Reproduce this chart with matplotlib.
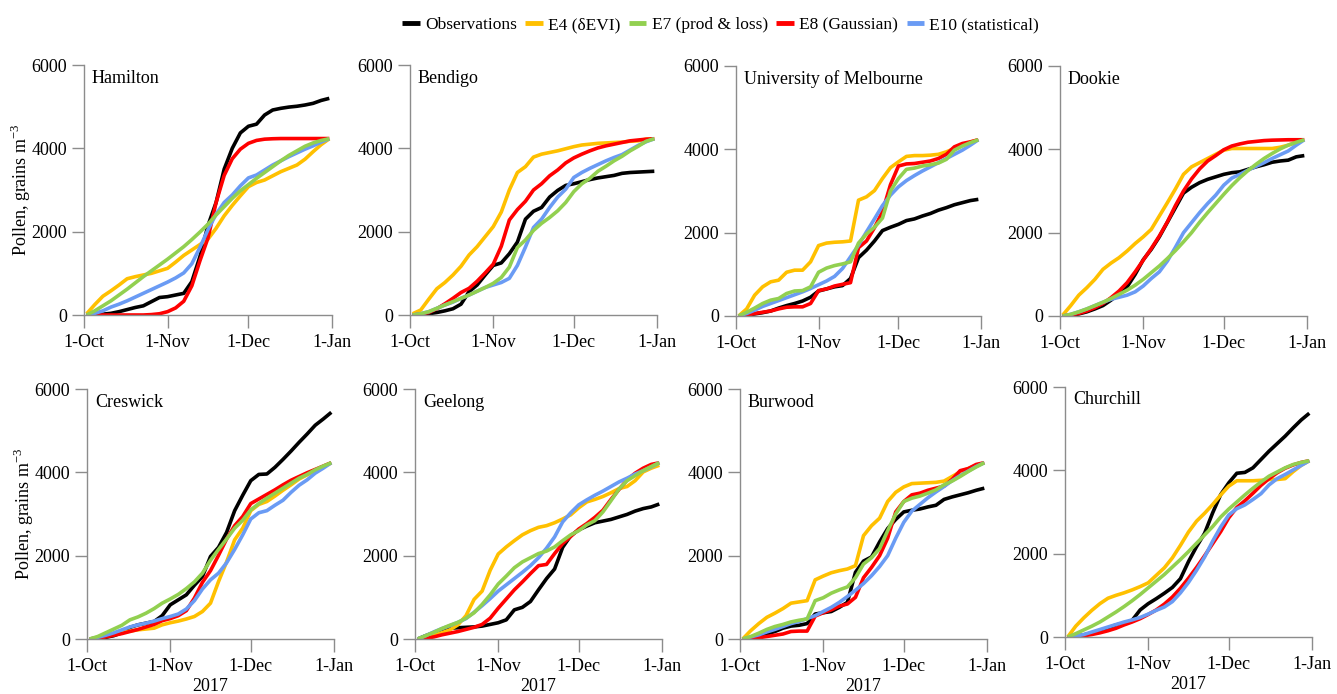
import matplotlib
matplotlib.use('Agg')
import matplotlib.pyplot as plt

plt.rcParams['font.family'] = ['Liberation Serif', 'DejaVu Serif']
plt.rcParams['mathtext.fontset'] = 'custom'
plt.rcParams['mathtext.rm'] = 'Liberation Serif'

# days since 1 October 2017
DAYS = [1, 4, 7, 10, 13, 16, 19, 22, 25, 28, 31, 34, 37, 40, 43, 46,
        49, 52, 55, 58, 61, 64, 67, 70, 73, 76, 79, 82, 85, 88, 91]

TICK_DAYS = [0, 31, 61, 92]
TICK_LABELS = ['1-Oct', '1-Nov', '1-Dec', '1-Jan']
Y_TICKS = [0, 2000, 4000, 6000]

SERIES_NAMES = ['Observations', 'E4 (\u03b4EVI)', 'E7 (prod & loss)',
                'E8 (Gaussian)', 'E10 (statistical)']
SERIES_COLORS = ['#000000', '#FFC000', '#92D050', '#FF0000', '#6A9BF4']

# --- Hamilton
HAMILTON_OBS = [0, 10, 20, 40, 80, 130, 180, 220, 320, 420, 440, 480, 520, 800, 1400, 2150,
                2700, 3500, 4000, 4370, 4530, 4580, 4800, 4920, 4960, 4990, 5010, 5040, 5080, 5150, 5200]
HAMILTON_E4 = [30, 250, 450, 580, 720, 870, 920, 960, 1000, 1060, 1120, 1270, 1430, 1560, 1690, 1820,
               2080, 2380, 2630, 2860, 3080, 3180, 3240, 3340, 3440, 3520, 3600, 3740, 3920, 4090, 4230]
HAMILTON_E7 = [0, 100, 220, 340, 480, 620, 770, 920, 1060, 1200, 1340, 1490, 1640, 1810, 1990, 2180,
               2400, 2600, 2800, 2980, 3130, 3280, 3420, 3560, 3700, 3830, 3940, 4050, 4130, 4190, 4230]
HAMILTON_E8 = [0, 0, 0, 0, 0, 0, 0, 0, 10, 30, 80, 170, 330, 700, 1300, 1850,
               2700, 3350, 3750, 3980, 4120, 4190, 4220, 4230, 4235, 4235, 4235, 4235, 4235, 4235, 4235]
HAMILTON_E10 = [0, 40, 100, 190, 260, 340, 430, 520, 610, 700, 790, 890, 1010, 1230, 1620, 2050,
                2420, 2700, 2880, 3100, 3290, 3360, 3480, 3600, 3700, 3800, 3890, 3980, 4060, 4150, 4230]

# --- Bendigo
BENDIGO_OBS = [0, 10, 30, 60, 100, 150, 260, 560, 720, 960, 1190, 1250, 1470, 1750, 2300, 2490,
               2580, 2830, 2990, 3110, 3150, 3200, 3250, 3290, 3320, 3350, 3400, 3420, 3430, 3440, 3450]
BENDIGO_E4 = [30, 120, 380, 630, 780, 960, 1170, 1440, 1640, 1880, 2120, 2470, 3000, 3420, 3560, 3790,
              3860, 3900, 3940, 3990, 4040, 4080, 4100, 4120, 4130, 4140, 4150, 4170, 4180, 4220, 4230]
BENDIGO_E7 = [0, 30, 80, 160, 240, 320, 400, 480, 570, 660, 760, 900, 1150, 1620, 1800, 2030,
              2200, 2340, 2500, 2700, 2960, 3150, 3280, 3450, 3570, 3700, 3810, 3940, 4050, 4170, 4230]
BENDIGO_E8 = [0, 20, 60, 150, 270, 400, 540, 640, 810, 1010, 1220, 1650, 2280, 2530, 2730, 3000,
              3150, 3340, 3480, 3650, 3770, 3860, 3940, 4010, 4060, 4100, 4140, 4180, 4200, 4220, 4230]
BENDIGO_E10 = [0, 30, 80, 160, 240, 310, 400, 480, 570, 660, 720, 780, 880, 1190, 1630, 2100,
               2300, 2580, 2830, 3020, 3300, 3420, 3520, 3610, 3700, 3780, 3850, 3960, 4070, 4160, 4230]

# --- University of Melbourne
MELB_OBS = [0, 20, 50, 80, 120, 190, 250, 300, 360, 450, 600, 650, 700, 730, 900, 1400,
            1580, 1800, 2050, 2130, 2200, 2290, 2330, 2400, 2460, 2540, 2600, 2670, 2720, 2770, 2800]
MELB_E4 = [0, 170, 500, 700, 820, 860, 1050, 1100, 1100, 1300, 1690, 1750, 1770, 1780, 1800, 2780,
           2860, 3010, 3300, 3560, 3700, 3830, 3850, 3850, 3860, 3880, 3940, 4020, 4100, 4170, 4230]
MELB_E7 = [0, 90, 190, 300, 380, 420, 540, 600, 610, 700, 1050, 1150, 1210, 1250, 1300, 1750,
           1970, 2130, 2350, 3000, 3300, 3520, 3550, 3600, 3630, 3670, 3760, 3980, 4080, 4160, 4230]
MELB_E8 = [0, 20, 60, 90, 120, 170, 210, 220, 220, 300, 610, 650, 720, 760, 800, 1640,
           1800, 2120, 2500, 3150, 3600, 3650, 3660, 3690, 3720, 3780, 3880, 4060, 4140, 4180, 4230]
MELB_E10 = [0, 60, 140, 230, 300, 370, 440, 510, 580, 660, 750, 840, 950, 1140, 1420, 1700,
            2020, 2330, 2650, 2900, 3100, 3250, 3370, 3480, 3580, 3680, 3780, 3880, 3980, 4100, 4230]

# --- Dookie
DOOKIE_OBS = [0, 20, 50, 100, 170, 250, 380, 530, 700, 1000, 1350, 1600, 1900, 2250, 2600, 2950,
              3090, 3200, 3280, 3340, 3400, 3440, 3460, 3520, 3580, 3630, 3690, 3720, 3740, 3820, 3850]
DOOKIE_E4 = [20, 250, 500, 680, 880, 1120, 1270, 1400, 1560, 1740, 1900, 2080, 2400, 2720, 3050, 3400,
             3580, 3680, 3780, 3880, 3980, 4020, 4020, 4020, 4020, 4020, 4020, 4050, 4100, 4170, 4230]
DOOKIE_E7 = [0, 40, 100, 170, 250, 330, 420, 520, 620, 740, 880, 1040, 1200, 1380, 1570, 1780,
             2000, 2250, 2480, 2700, 2920, 3130, 3320, 3490, 3640, 3780, 3900, 4010, 4100, 4170, 4230]
DOOKIE_E8 = [0, 30, 60, 120, 200, 300, 440, 600, 800, 1060, 1340, 1620, 1920, 2260, 2650, 3000,
             3290, 3530, 3720, 3850, 3990, 4080, 4130, 4170, 4190, 4210, 4220, 4225, 4230, 4230, 4230]
DOOKIE_E10 = [0, 40, 100, 170, 250, 330, 400, 450, 500, 580, 720, 900, 1060, 1320, 1650, 2000,
              2240, 2480, 2700, 2900, 3140, 3310, 3400, 3500, 3590, 3680, 3780, 3870, 3960, 4100, 4230]

# --- Creswick
CRESWICK_OBS = [0, 20, 40, 80, 150, 280, 340, 380, 420, 560, 820, 940, 1060, 1290, 1500, 1980,
                2200, 2560, 3080, 3450, 3800, 3950, 3960, 4120, 4310, 4510, 4720, 4920, 5130, 5280, 5440]
CRESWICK_E4 = [0, 40, 90, 130, 160, 190, 220, 240, 260, 340, 390, 430, 480, 540, 660, 860,
               1380, 1850, 2380, 2660, 3080, 3230, 3300, 3430, 3570, 3700, 3840, 3940, 4040, 4130, 4230]
CRESWICK_E7 = [0, 60, 150, 240, 330, 460, 530, 620, 730, 860, 960, 1070, 1210, 1370, 1580, 1890,
               2150, 2400, 2660, 2850, 3100, 3250, 3380, 3500, 3620, 3740, 3860, 3950, 4060, 4150, 4230]
CRESWICK_E8 = [0, 20, 50, 90, 130, 180, 230, 290, 350, 440, 490, 560, 680, 980, 1360, 1640,
               2010, 2400, 2720, 2940, 3250, 3360, 3470, 3580, 3700, 3810, 3900, 3990, 4070, 4150, 4230]
CRESWICK_E10 = [0, 40, 90, 150, 220, 290, 340, 380, 430, 490, 540, 600, 720, 920, 1200, 1420,
                1580, 1830, 2150, 2500, 2880, 3030, 3080, 3210, 3330, 3520, 3690, 3820, 3980, 4100, 4230]

# --- Geelong
GEELONG_OBS = [0, 80, 150, 230, 260, 270, 280, 290, 310, 350, 390, 460, 700, 760, 900, 1180,
               1450, 1680, 2200, 2480, 2620, 2710, 2790, 2830, 2870, 2930, 2990, 3070, 3130, 3170, 3240]
GEELONG_E4 = [0, 50, 90, 150, 220, 340, 560, 950, 1150, 1650, 2040, 2210, 2360, 2500, 2600, 2680,
              2720, 2790, 2880, 2980, 3150, 3290, 3350, 3420, 3510, 3610, 3660, 3800, 4010, 4100, 4170]
GEELONG_E7 = [0, 80, 160, 250, 330, 400, 500, 630, 830, 1060, 1320, 1510, 1710, 1850, 1950, 2050,
              2110, 2210, 2360, 2500, 2600, 2740, 2840, 3050, 3320, 3600, 3800, 3920, 4040, 4140, 4230]
GEELONG_E8 = [0, 20, 50, 100, 140, 180, 230, 280, 350, 500, 740, 960, 1180, 1370, 1570, 1760,
              1790, 2050, 2290, 2460, 2640, 2770, 2920, 3090, 3350, 3590, 3820, 3980, 4100, 4190, 4230]
GEELONG_E10 = [0, 80, 170, 250, 320, 400, 490, 640, 800, 970, 1150, 1300, 1450, 1600, 1760, 1950,
               2180, 2450, 2810, 3030, 3220, 3340, 3450, 3550, 3660, 3770, 3860, 3960, 4040, 4130, 4230]

# --- Burwood
BURWOOD_OBS = [0, 20, 60, 120, 180, 260, 310, 330, 370, 600, 630, 660, 760, 880, 1600, 1870,
               1970, 2330, 2650, 2870, 3050, 3090, 3120, 3170, 3210, 3350, 3410, 3460, 3510, 3570, 3620]
BURWOOD_E4 = [0, 200, 370, 520, 620, 730, 860, 890, 920, 1420, 1510, 1590, 1640, 1680, 1760, 2480,
              2720, 2900, 3300, 3520, 3650, 3730, 3740, 3750, 3760, 3790, 3900, 4010, 4090, 4170, 4230]
BURWOOD_E7 = [0, 60, 140, 230, 300, 350, 410, 450, 480, 920, 990, 1100, 1180, 1250, 1470, 1800,
              1950, 2170, 2600, 3000, 3300, 3380, 3430, 3500, 3580, 3700, 3790, 3900, 4020, 4130, 4230]
BURWOOD_E8 = [0, 10, 30, 60, 90, 120, 180, 190, 190, 550, 630, 700, 790, 840, 1000, 1470,
              1720, 2000, 2420, 3050, 3300, 3460, 3500, 3570, 3620, 3670, 3830, 4040, 4090, 4190, 4230]
BURWOOD_E10 = [0, 50, 100, 170, 230, 300, 370, 420, 490, 560, 660, 760, 880, 1020, 1170, 1330,
               1520, 1740, 2000, 2420, 2800, 3070, 3230, 3390, 3530, 3660, 3800, 3920, 4030, 4140, 4230]

# --- Churchill
CHURCHILL_OBS = [0, 20, 50, 100, 150, 220, 290, 330, 400, 650, 800, 920, 1050, 1190, 1400, 1810,
                 2170, 2490, 2980, 3420, 3700, 3930, 3950, 4060, 4260, 4460, 4640, 4820, 5020, 5210, 5370]
CHURCHILL_E4 = [0, 260, 460, 640, 800, 930, 1000, 1060, 1130, 1210, 1300, 1480, 1660, 1900, 2200, 2520,
                2780, 2970, 3180, 3410, 3620, 3750, 3750, 3750, 3760, 3780, 3780, 3800, 3970, 4120, 4230]
CHURCHILL_E7 = [0, 80, 170, 260, 360, 480, 600, 730, 870, 1020, 1180, 1340, 1500, 1680, 1860, 2050,
                2250, 2450, 2650, 2880, 3070, 3240, 3410, 3570, 3720, 3860, 3960, 4060, 4140, 4190, 4230]
CHURCHILL_E8 = [0, 10, 30, 60, 100, 150, 210, 290, 360, 440, 540, 650, 790, 960, 1170, 1410,
                1670, 1950, 2240, 2530, 2860, 3110, 3270, 3450, 3640, 3800, 3940, 4050, 4130, 4190, 4230]
CHURCHILL_E10 = [0, 20, 60, 120, 180, 240, 300, 360, 410, 470, 550, 640, 720, 850, 1060, 1310,
                 1600, 1920, 2300, 2640, 2930, 3080, 3170, 3300, 3440, 3650, 3800, 3900, 4010, 4120, 4230]

STATIONS = ['Hamilton', 'Bendigo', 'University of Melbourne', 'Dookie',
            'Creswick', 'Geelong', 'Burwood', 'Churchill']
STATION_DATA = [
    (HAMILTON_OBS, HAMILTON_E4, HAMILTON_E7, HAMILTON_E8, HAMILTON_E10),
    (BENDIGO_OBS, BENDIGO_E4, BENDIGO_E7, BENDIGO_E8, BENDIGO_E10),
    (MELB_OBS, MELB_E4, MELB_E7, MELB_E8, MELB_E10),
    (DOOKIE_OBS, DOOKIE_E4, DOOKIE_E7, DOOKIE_E8, DOOKIE_E10),
    (CRESWICK_OBS, CRESWICK_E4, CRESWICK_E7, CRESWICK_E8, CRESWICK_E10),
    (GEELONG_OBS, GEELONG_E4, GEELONG_E7, GEELONG_E8, GEELONG_E10),
    (BURWOOD_OBS, BURWOOD_E4, BURWOOD_E7, BURWOOD_E8, BURWOOD_E10),
    (CHURCHILL_OBS, CHURCHILL_E4, CHURCHILL_E7, CHURCHILL_E8, CHURCHILL_E10),
]

# panel rectangles in pixels: (left, right, top, bottom) of the data area
W, H = 1337, 694
PANELS_PX = [
    (84, 332, 65, 315), (410, 657, 65, 315), (736, 981, 66, 316), (1060, 1307, 66, 316),
    (87, 334, 389, 639), (415, 662, 389, 639), (740, 987, 389, 639), (1065, 1312, 387, 637),
]

# draw order: obs, E4, E8, E10, E7 (green on top)
DRAW_ORDER = [0, 1, 3, 4, 2]
SPINE_GRAY = '#8c8c8c'
FS = 13


def main():
    fig = plt.figure(figsize=(W / 100, H / 100), dpi=100)
    handles = [None] * 5

    for i, (name, series) in enumerate(zip(STATIONS, STATION_DATA)):
        left, right, top, bottom = PANELS_PX[i]
        ax = fig.add_axes([left / W, 1 - bottom / H, (right - left) / W, (bottom - top) / H])
        for k in DRAW_ORDER:
            ln, = ax.plot(DAYS, series[k], color=SERIES_COLORS[k], lw=2.6,
                          solid_capstyle='butt', label=SERIES_NAMES[k])
            handles[k] = ln

        ax.set_xlim(0, 92)
        ax.set_ylim(0, 6000)
        ax.set_xticks(TICK_DAYS)
        ax.set_xticklabels(TICK_LABELS)
        ax.set_yticks(Y_TICKS)
        ax.set_yticklabels([str(v) for v in Y_TICKS])
        for s in ['top', 'right']:
            ax.spines[s].set_visible(False)
        for s in ['left', 'bottom']:
            ax.spines[s].set_color(SPINE_GRAY)
            ax.spines[s].set_linewidth(1.0)
        ax.tick_params(axis='both', colors=SPINE_GRAY, labelcolor='black',
                       labelsize=FS, length=9, width=1.0)
        ax.tick_params(axis='x', pad=5)
        ax.tick_params(axis='y', pad=3)

        ax.text(0.032, 0.948, name, transform=ax.transAxes, fontsize=FS,
                ha='left', va='center')

        if i % 4 == 0:
            ax.set_ylabel('Pollen, grains m$^{\\mathregular{-3}}$', fontsize=FS)
            ax.yaxis.set_label_coords(-0.205, 0.5)
        if i >= 4:
            ax.set_xlabel('2017', fontsize=FS)
            ax.xaxis.set_label_coords(0.5, -0.155)

    fig.legend(handles=handles, labels=SERIES_NAMES, loc='center',
               bbox_to_anchor=(0.539, 0.964), ncol=5, frameon=False,
               fontsize=12.5, handlelength=1.0, handletextpad=0.3,
               columnspacing=0.5, borderaxespad=0)
    for lh in fig.legends[0].get_lines():
        lh.set_linewidth(3.5)

    fig.savefig('out.png', dpi=100)


if __name__ == '__main__':
    main()
